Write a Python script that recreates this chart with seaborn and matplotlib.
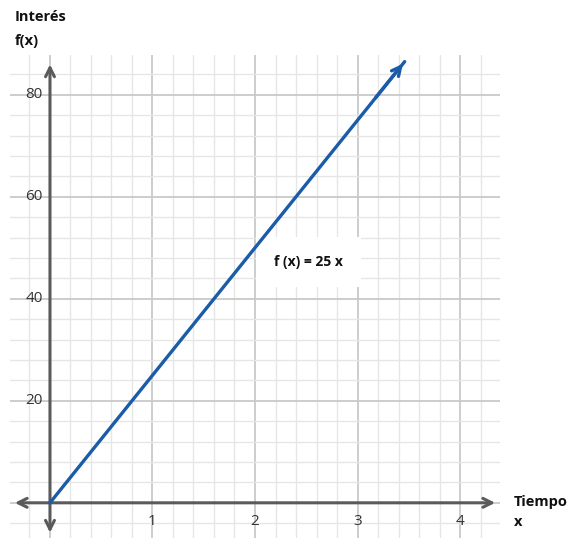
import numpy as np
import matplotlib
matplotlib.use("Agg")
import matplotlib.pyplot as plt
from matplotlib.ticker import MultipleLocator
import seaborn as sns

# data
x_line = [0, 3.46]
y_line = [0, 86.5]
x_ticks = [1, 2, 3, 4]
y_ticks = [20, 40, 60, 80]
x_range = (-0.39, 4.39)
y_range = (-6.9, 87.8)

sns.set_style("white")
plt.rcParams['font.family'] = ['Open Sans', 'DejaVu Sans']

fig = plt.figure(figsize=(5.67, 5.38), dpi=100)
ax = fig.add_axes([10 / 567, 0, 490 / 567, 483 / 538])

ax.set_xlim(*x_range)
ax.set_ylim(*y_range)

# grid: minor + major
ax.set_axisbelow(True)
ax.xaxis.set_major_locator(MultipleLocator(1))
ax.xaxis.set_minor_locator(MultipleLocator(0.2))
ax.yaxis.set_major_locator(MultipleLocator(20))
ax.yaxis.set_minor_locator(MultipleLocator(4))
ax.grid(which='major', color='#c9c9c9', lw=1.3)
ax.grid(which='minor', color='#e6e6e6', lw=1.0)
ax.tick_params(which='both', length=0, labelbottom=False, labelleft=False)
for s in ax.spines.values():
    s.set_visible(False)

# function label (white box under the line)
ax.text(2.52, 47.3, 'f (x) = 25 x', ha='center', va='center', fontsize=10,
        fontweight='bold', color='#111111', zorder=1,
        bbox=dict(facecolor='white', edgecolor='none', pad=13))

# axes with arrows on both ends
axis_kw = dict(arrowstyle='<->', color='#5a5a5a', lw=2.2, mutation_scale=16)
ax.annotate('', xy=(x_range[0] + 0.02, 0), xytext=(x_range[1] - 0.02, 0),
            arrowprops=axis_kw, annotation_clip=False)
ax.annotate('', xy=(0, y_range[0] + 0.5), xytext=(0, y_range[1] - 1.3),
            arrowprops=axis_kw, annotation_clip=False)

# the function line
sns.lineplot(x=x_line, y=y_line, ax=ax, color='#1a5ca8', lw=2.4, zorder=3)
ax.annotate('', xy=(x_line[1], y_line[1]), xytext=(x_line[1] - 0.3, y_line[1] - 7.5),
            arrowprops=dict(arrowstyle='->', color='#1a5ca8', lw=2.4, mutation_scale=16),
            zorder=3)

# tick labels
for t in x_ticks:
    ax.text(t, -2.2, str(t), ha='center', va='top', fontsize=11, color='#333333')
for t in y_ticks:
    ax.text(-0.07, t, str(t), ha='right', va='center', fontsize=11, color='#333333')

# axis titles
fig.text(15 / 567, 1 - 17 / 538, 'Interés', ha='left', va='center', fontsize=10.5,
         fontweight='bold', color='#111111')
fig.text(15 / 567, 1 - 41 / 538, 'f(x)', ha='left', va='center', fontsize=10.5,
         fontweight='bold', color='#111111')
fig.text(514 / 567, 1 - 502 / 538, 'Tiempo', ha='left', va='center', fontsize=10.5,
         fontweight='bold', color='#111111')
fig.text(514 / 567, 1 - 522 / 538, 'x', ha='left', va='center', fontsize=10.5,
         fontweight='bold', color='#111111')

fig.savefig('out.png', dpi=100)
